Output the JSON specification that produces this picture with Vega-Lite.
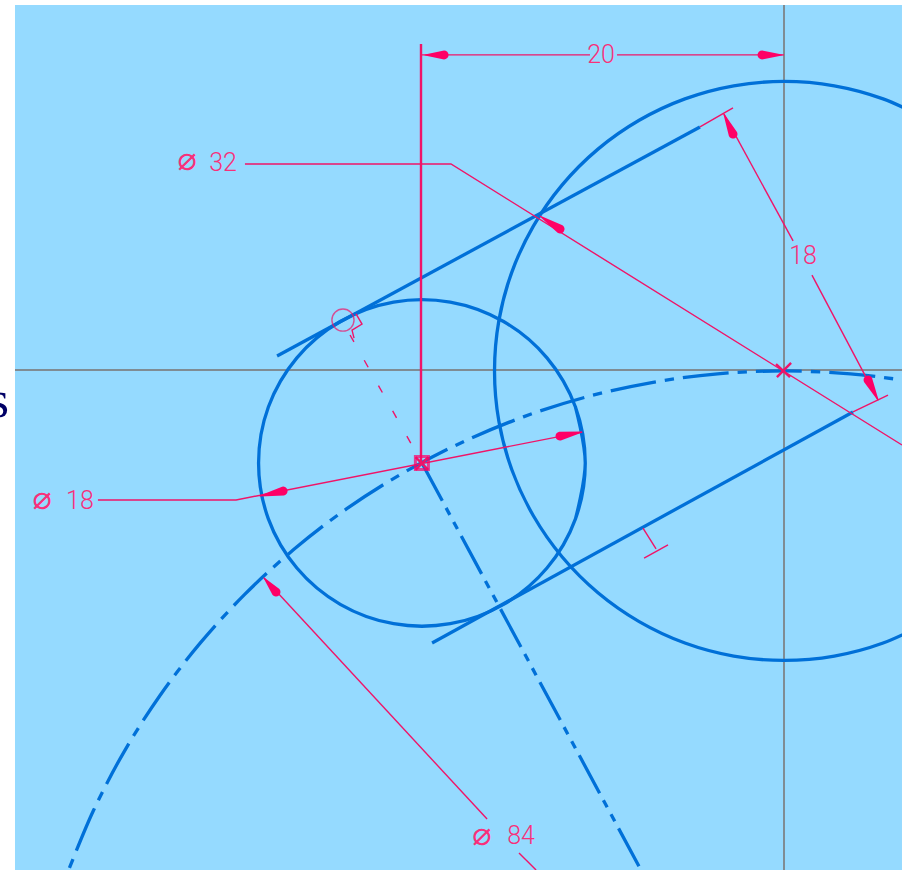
{
"$schema":"https://vega.github.io/schema/vega-lite/v6.json",
"width":902,"height":870,"padding":0,"autosize":{"type":"none"},"background":"#ffffff",
"config":{"view":{"stroke":null}},
"encoding":{
"x":{"field":"x","type":"quantitative","axis":null,"scale":{"domain":[-43.196,6.501],"nice":false,"zero":false}},
"y":{"field":"y","type":"quantitative","axis":null,"scale":{"domain":[-27.548,20.386],"nice":false,"zero":false}}
},
"layer":[
{"data":{"values":[{"x":-42.37,"x1":6.5,"y":20.11,"y1":-27.55}]},
"mark":{"type":"rect","color":"#95DAFF"},
"encoding":{"x2":{"field":"x1"},"y2":{"field":"y1"}}},
{"data":{"values":[{"x":-42.7,"y":-2.59,"t":"s"}]},
"mark":{"type":"text","font":"Liberation Serif","fontSize":52,"align":"right","baseline":"alphabetic","color":"#000066"},
"encoding":{"text":{"field":"t"}}},
{"data":{"values":[
{"p":"h","i":0,"x":-42.37,"y":0},{"p":"h","i":1,"x":6.5,"y":0},
{"p":"v","i":0,"x":0,"y":20.11},{"p":"v","i":1,"x":0,"y":-27.55}]},
"mark":{"type":"line","color":"#7F8C94","strokeWidth":2,"clip":true},
"encoding":{"detail":{"field":"p"},"order":{"field":"i"}}},
{"data":{"values":[
{"p":"A","i":0,"x":7.98,"y":13.76},{"p":"A","i":1,"x":5.46,"y":14.94},{"p":"A","i":2,"x":2.77,"y":15.66},{"p":"A","i":3,"x":0,"y":15.9},{"p":"A","i":4,"x":-2.77,"y":15.66},{"p":"A","i":5,"x":-5.46,"y":14.94},{"p":"A","i":6,"x":-7.98,"y":13.76},{"p":"A","i":7,"x":-10.25,"y":12.17},{"p":"A","i":8,"x":-12.22,"y":10.2},{"p":"A","i":9,"x":-13.81,"y":7.93},{"p":"A","i":10,"x":-14.99,"y":5.41},{"p":"A","i":11,"x":-15.71,"y":2.72},{"p":"A","i":12,"x":-15.95,"y":-0.05},{"p":"A","i":13,"x":-15.71,"y":-2.82},{"p":"A","i":14,"x":-14.99,"y":-5.51},{"p":"A","i":15,"x":-13.81,"y":-8.03},{"p":"A","i":16,"x":-12.22,"y":-10.3},{"p":"A","i":17,"x":-10.25,"y":-12.27},{"p":"A","i":18,"x":-7.98,"y":-13.86},{"p":"A","i":19,"x":-5.46,"y":-15.04},{"p":"A","i":20,"x":-2.77,"y":-15.76},{"p":"A","i":21,"x":0,"y":-16},{"p":"A","i":22,"x":2.77,"y":-15.76},{"p":"A","i":23,"x":5.46,"y":-15.04},{"p":"A","i":24,"x":7.98,"y":-13.86},
{"p":"B","i":-1,"x":-11.49,"y":-8.2},{"p":"B","i":0,"x":-10.95,"y":-5.12},{"p":"B","i":1,"x":-11.49,"y":-2.04},{"p":"B","i":2,"x":-13.06,"y":0.67},{"p":"B","i":3,"x":-15.45,"y":2.67},{"p":"B","i":4,"x":-18.39,"y":3.74},{"p":"B","i":5,"x":-21.51,"y":3.74},{"p":"B","i":6,"x":-24.45,"y":2.67},{"p":"B","i":7,"x":-26.84,"y":0.67},{"p":"B","i":8,"x":-28.41,"y":-2.04},{"p":"B","i":9,"x":-28.95,"y":-5.12},{"p":"B","i":10,"x":-28.41,"y":-8.2},{"p":"B","i":11,"x":-26.84,"y":-10.91},{"p":"B","i":12,"x":-24.45,"y":-12.91},{"p":"B","i":13,"x":-21.51,"y":-13.98},{"p":"B","i":14,"x":-18.39,"y":-13.98},{"p":"B","i":15,"x":-15.45,"y":-12.91},{"p":"B","i":16,"x":-13.06,"y":-10.91},{"p":"B","i":17,"x":-11.49,"y":-8.2},{"p":"B","i":18,"x":-10.95,"y":-5.12},{"p":"B","i":19,"x":-11.49,"y":-2.04},
{"p":"T1","i":0,"x":-27.93,"y":0.77},{"p":"T1","i":1,"x":-4.63,"y":13.39},
{"p":"T2","i":0,"x":-19.39,"y":-15.04},{"p":"T2","i":1,"x":3.8,"y":-2.31}]},
"mark":{"type":"line","color":"#0070D8","strokeWidth":3.3,"interpolate":"cardinal","clip":true},
"encoding":{"detail":{"field":"p"},"order":{"field":"i"}}},
{"data":{"values":[
{"p":"R","i":0,"x":-39.47,"y":-27.69},{"p":"R","i":1,"x":-38.06,"y":-24.3},{"p":"R","i":2,"x":-36.37,"y":-21.05},{"p":"R","i":3,"x":-34.4,"y":-17.96},{"p":"R","i":4,"x":-32.17,"y":-15.05},{"p":"R","i":5,"x":-29.7,"y":-12.35},{"p":"R","i":6,"x":-27,"y":-9.88},{"p":"R","i":7,"x":-24.09,"y":-7.64},{"p":"R","i":8,"x":-21,"y":-5.68},{"p":"R","i":9,"x":-17.75,"y":-3.99},{"p":"R","i":10,"x":-14.36,"y":-2.58},{"p":"R","i":11,"x":-10.87,"y":-1.48},{"p":"R","i":12,"x":-7.29,"y":-0.69},{"p":"R","i":13,"x":-3.66,"y":-0.21},{"p":"R","i":14,"x":0,"y":-0.05},{"p":"R","i":15,"x":3.66,"y":-0.21},{"p":"R","i":16,"x":6.28,"y":-0.52}]},
"mark":{"type":"line","color":"#0070D8","strokeWidth":3.3,"interpolate":"cardinal","strokeDash":[46,9,9.3,9],"strokeDashOffset":49.7,"clip":true},
"encoding":{"detail":{"field":"p"},"order":{"field":"i"}}},
{"data":{"values":[
{"p":"C","i":0,"x":-19.95,"y":-5.12},{"p":"C","i":1,"x":-7.88,"y":-27.55}]},
"mark":{"type":"line","color":"#0070D8","strokeWidth":3.3,"strokeDash":[43,8,8,8,8,8],"clip":true},
"encoding":{"detail":{"field":"p"},"order":{"field":"i"}}},
{"data":{"values":[
{"p":"E","i":0,"x":-23.91,"y":1.93},{"p":"E","i":1,"x":-19.95,"y":-5.12}]},
"mark":{"type":"line","color":"#F01468","strokeWidth":1.4,"strokeDash":[8,21]},
"encoding":{"detail":{"field":"p"},"order":{"field":"i"}}},
{"data":{"values":[
{"p":"V","i":0,"x":-20,"y":17.96},{"p":"V","i":1,"x":-20,"y":-5.12},
{"p":"X1","i":0,"x":-0.44,"y":0.33},{"p":"X1","i":1,"x":0.33,"y":-0.39},
{"p":"X2","i":0,"x":-0.39,"y":-0.39},{"p":"X2","i":1,"x":0.39,"y":0.39},
{"p":"X3","i":0,"x":-20.3,"y":-4.8},{"p":"X3","i":1,"x":-19.6,"y":-5.5},
{"p":"X4","i":0,"x":-20.3,"y":-5.5},{"p":"X4","i":1,"x":-19.6,"y":-4.8}]},
"mark":{"type":"line","color":"#F01468","strokeWidth":2.4},
"encoding":{"detail":{"field":"p"},"order":{"field":"i"}}},
{"data":{"values":[
{"p":"d1","i":0,"x":-20,"y":17.36},{"p":"d1","i":1,"x":-10.69,"y":17.36},
{"p":"d2","i":0,"x":-9.2,"y":17.36},{"p":"d2","i":1,"x":0,"y":17.36},
{"p":"l32","i":0,"x":-29.7,"y":11.35},{"p":"l32","i":1,"x":-18.35,"y":11.35},{"p":"l32","i":2,"x":6.5,"y":-4.13},
{"p":"l18","i":0,"x":-37.8,"y":-7.16},{"p":"l18","i":1,"x":-30.19,"y":-7.16},{"p":"l18","i":2,"x":-11.13,"y":-3.42},
{"p":"s1","i":0,"x":-3.31,"y":14.1},{"p":"s1","i":1,"x":0.5,"y":7.11},
{"p":"s2","i":0,"x":1.54,"y":5.23},{"p":"s2","i":1,"x":5.18,"y":-1.65},
{"p":"e1","i":0,"x":-4.63,"y":13.39},{"p":"e1","i":1,"x":-2.81,"y":14.44},
{"p":"e2","i":0,"x":3.8,"y":-2.31},{"p":"e2","i":1,"x":5.73,"y":-1.38},
{"p":"l84a","i":0,"x":-28.65,"y":-11.46},{"p":"l84a","i":1,"x":-16.36,"y":-24.74},
{"p":"l84b","i":0,"x":-14.6,"y":-26.61},{"p":"l84b","i":1,"x":-13.66,"y":-27.55},
{"p":"p1","i":0,"x":-7.77,"y":-8.71},{"p":"p1","i":1,"x":-7.05,"y":-9.86},
{"p":"p2","i":0,"x":-7.71,"y":-10.36},{"p":"p2","i":1,"x":-6.39,"y":-9.64},
{"p":"t","i":0,"x":-23.58,"y":3.09},{"p":"t","i":1,"x":-23.25,"y":2.53},{"p":"t","i":2,"x":-23.8,"y":2.2},{"p":"t","i":3,"x":-23.69,"y":1.76}]},
"mark":{"type":"line","color":"#F01468","strokeWidth":1.4,"clip":true},
"encoding":{"detail":{"field":"p"},"order":{"field":"i"}}},
{"data":{"values":[
{"p":"a1","i":0,"x":-28.87,"y":-6.94},{"p":"a1","i":1,"x":-27.6,"y":-6.67},
{"p":"a2","i":0,"x":-11.13,"y":-3.42},{"p":"a2","i":1,"x":-12.34,"y":-3.64},
{"p":"a3","i":0,"x":-13.44,"y":8.48},{"p":"a3","i":1,"x":-12.34,"y":7.77},
{"p":"a4","i":0,"x":-19.78,"y":17.36},{"p":"a4","i":1,"x":-18.73,"y":17.36},
{"p":"a5","i":0,"x":-0.11,"y":17.36},{"p":"a5","i":1,"x":-1.21,"y":17.36},
{"p":"a6","i":0,"x":-3.31,"y":14.1},{"p":"a6","i":1,"x":-2.81,"y":13},
{"p":"a7","i":0,"x":5.18,"y":-1.65},{"p":"a7","i":1,"x":4.63,"y":-0.55},
{"p":"a8","i":0,"x":-28.65,"y":-11.46},{"p":"a8","i":1,"x":-27.99,"y":-12.23}]},
"mark":{"type":"trail","color":"#FF0066"},
"encoding":{"detail":{"field":"p"},"order":{"field":"i"},
"size":{"field":"i","type":"quantitative","legend":null,"scale":{"domain":[0,1],"range":[1,9]}}}},
{"data":{"values":[{"x":-24.3,"y":2.75}]},
"mark":{"type":"point","shape":"circle","size":490,"filled":false,"stroke":"#F01468","strokeWidth":1.4}},
{"data":{"values":[{"x":-19.95,"y":-5.12}]},
"mark":{"type":"point","shape":"square","size":170,"filled":false,"stroke":"#FF0066","strokeWidth":3}},
{"data":{"values":[
{"x":-30.91,"y":11.4,"t":"32"},{"x":-10.08,"y":17.36,"t":"20"},{"x":1.05,"y":6.28,"t":"18"},{"x":-38.79,"y":-7.22,"t":"18"},{"x":-14.49,"y":-25.67,"t":"84"}]},
"mark":{"type":"text","font":"Roboto","fontWeight":300,"fontSize":25,"align":"center","baseline":"middle","color":"#F8307A"},
"encoding":{"text":{"field":"t"}}},
{"data":{"values":[
{"x":-32.89,"y":11.57,"t":"⌀"},{"x":-40.88,"y":-7.11,"t":"⌀"},{"x":-16.64,"y":-25.62,"t":"⌀"}]},
"mark":{"type":"text","font":"DejaVu Sans","fontSize":32,"align":"center","baseline":"middle","color":"#F8307A"},
"encoding":{"text":{"field":"t"}}}
]
}
